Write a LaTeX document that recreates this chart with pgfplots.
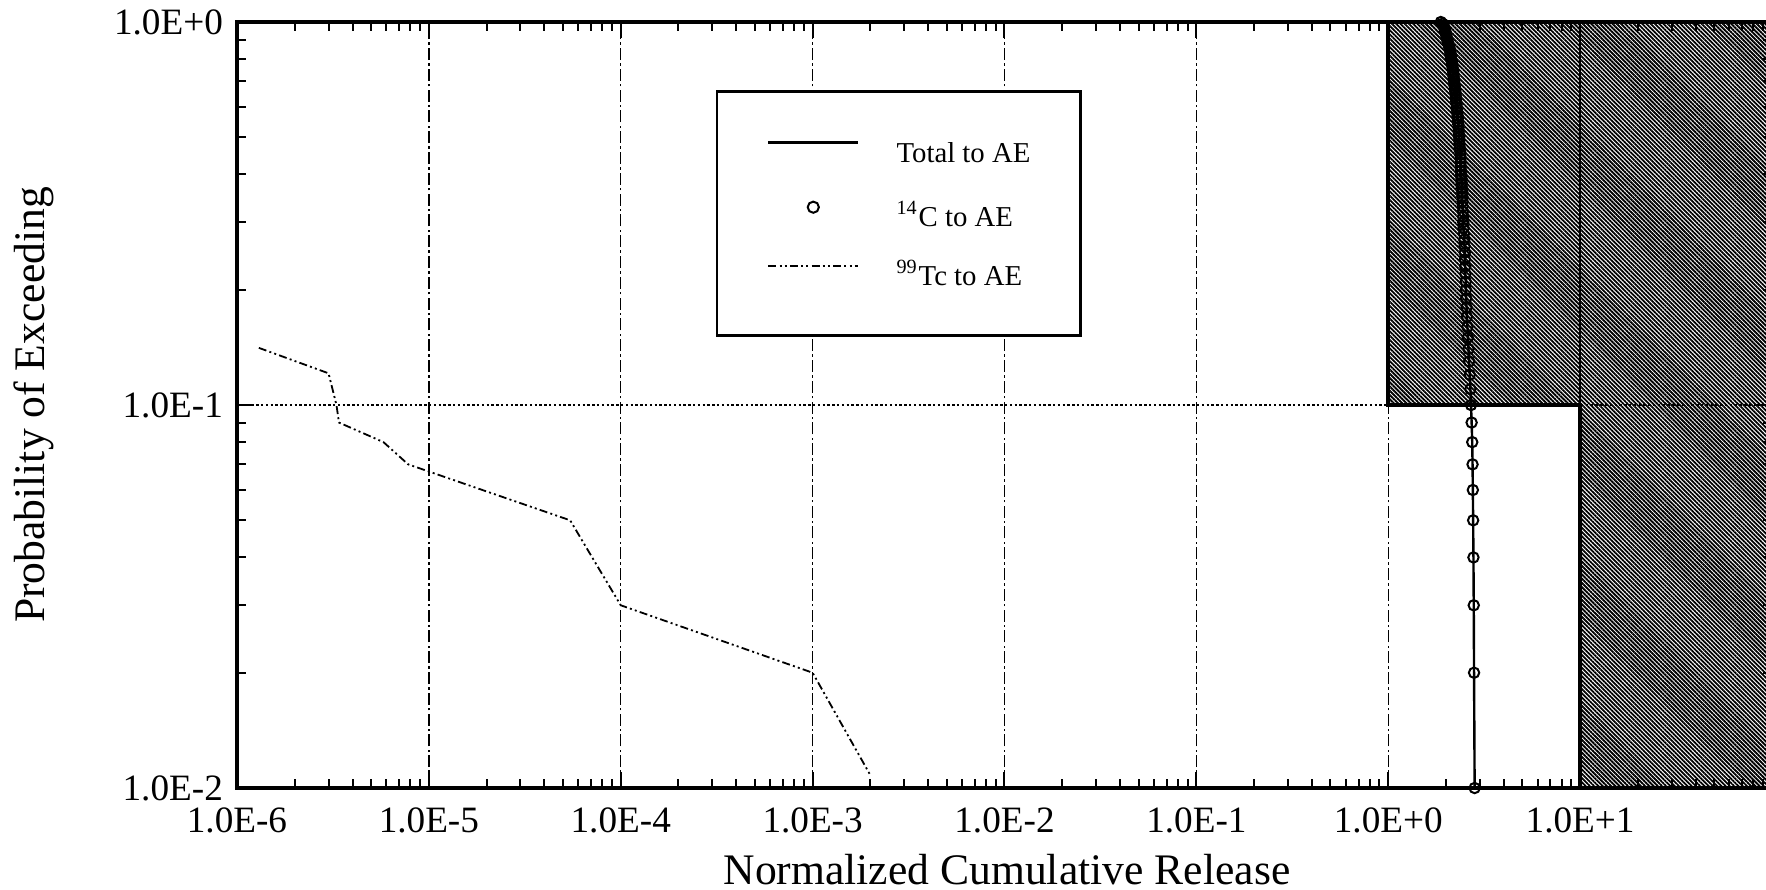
\documentclass[border=0pt]{standalone}
\usepackage{fontspec}
\setmainfont{Liberation Serif}
\usepackage{pgfplots}
\usepackage{pgfplotstable}
\pgfplotsset{compat=1.18}
\usetikzlibrary{patterns.meta}

% 14C release to the accessible environment, one row per realization (CCDF)
\pgfplotstableread{
x y
2.82 0.01
2.80 0.02
2.79 0.03
2.78 0.04
2.77 0.05
2.76 0.06
2.75 0.07
2.74 0.08
2.72 0.09
2.70 0.10
2.68 0.11
2.66 0.12
2.64 0.13
2.62 0.14
2.60 0.15
2.585 0.16
2.57 0.17
2.56 0.18
2.55 0.19
2.54 0.20
2.535 0.21
2.525 0.22
2.52 0.23
2.51 0.24
2.505 0.25
2.50 0.26
2.49 0.27
2.48 0.28
2.47 0.29
2.46 0.30
2.455 0.31
2.45 0.32
2.445 0.33
2.44 0.34
2.435 0.35
2.43 0.36
2.42 0.37
2.415 0.38
2.41 0.39
2.40 0.40
2.395 0.41
2.39 0.42
2.385 0.43
2.38 0.44
2.375 0.45
2.37 0.46
2.36 0.47
2.35 0.48
2.345 0.49
2.34 0.50
2.335 0.51
2.33 0.52
2.325 0.53
2.32 0.54
2.31 0.55
2.305 0.56
2.30 0.57
2.29 0.58
2.28 0.59
2.275 0.60
2.27 0.61
2.26 0.62
2.255 0.63
2.25 0.64
2.24 0.65
2.235 0.66
2.23 0.67
2.22 0.68
2.21 0.69
2.205 0.70
2.20 0.71
2.19 0.72
2.185 0.73
2.18 0.74
2.17 0.75
2.165 0.76
2.16 0.77
2.15 0.78
2.14 0.79
2.13 0.80
2.12 0.81
2.115 0.82
2.11 0.83
2.10 0.84
2.09 0.85
2.08 0.86
2.07 0.87
2.05 0.88
2.04 0.89
2.03 0.90
2.02 0.91
2.01 0.92
2.00 0.93
1.99 0.94
1.98 0.95
1.97 0.96
1.955 0.97
1.94 0.98
1.92 0.99
1.88 1.00
}\carbon

% 99Tc release to the accessible environment
\pgfplotstableread{
x y
1.3e-6 0.141
3.0e-6 0.121
3.3e-6 0.100
3.4e-6 0.090
5.8e-6 0.080
7.8e-6 0.070
5.45e-5 0.050
7.1e-5 0.040
1.0e-4 0.030
1.0e-3 0.020
2.0e-3 0.0108
}\technetium

\begin{document}
\begin{tikzpicture}
\useasboundingbox (0,0) rectangle (441.5pt,222.25pt);
\begin{axis}[
  at={(59.25pt,25.25pt)}, anchor=south west,
  scale only axis, width=383.75pt, height=191.5pt,
  xmode=log, ymode=log,
  xmin=1e-6, xmax=1e2, ymin=0.01, ymax=1,
  clip=false,
  axis line style={line width=0.9pt},
  xtick={1e-6,1e-5,1e-4,1e-3,1e-2,1e-1,1,10,100},
  xticklabels={1.0E-6,1.0E-5,1.0E-4,1.0E-3,1.0E-2,1.0E-1,1.0E+0,1.0E+1,},
  minor xtick={2e-6,3e-6,4e-6,5e-6,6e-6,7e-6,8e-6,9e-6,
               2e-5,3e-5,4e-5,5e-5,6e-5,7e-5,8e-5,9e-5,
               2e-4,3e-4,4e-4,5e-4,6e-4,7e-4,8e-4,9e-4,
               2e-3,3e-3,4e-3,5e-3,6e-3,7e-3,8e-3,9e-3,
               2e-2,3e-2,4e-2,5e-2,6e-2,7e-2,8e-2,9e-2,
               0.2,0.3,0.4,0.5,0.6,0.7,0.8,0.9,
               2,3,4,5,6,7,8,9,
               20,30,40,50,60,70,80,90},
  ytick={0.01,0.1,1},
  yticklabels={1.0E-2,1.0E-1,1.0E+0},
  minor ytick={0.02,0.03,0.04,0.05,0.06,0.07,0.08,0.09,
               0.2,0.3,0.4,0.5,0.6,0.7,0.8,0.9},
  tick label style={font=\fontsize{9.3}{10}\selectfont},
  xticklabel style={yshift=-1.5pt},
  tick style={black, line width=0.5pt},
  major tick length=4pt, minor tick length=2.3pt,
  tick align=inside,
  xmajorgrids, ymajorgrids,
  major x grid style={black, line width=0.35pt, dash pattern=on 3pt off 0.8pt on 0.6pt off 0.8pt},
  major y grid style={black, line width=0.35pt, dash pattern=on 0.6pt off 0.6pt},
  xlabel={Normalized Cumulative Release},
  ylabel={Probability of Exceeding},
  every axis x label/.style={at={(rel axis cs:0.5016,-0.107)}, anchor=center, font=\fontsize{10.9}{12}\selectfont},
  every axis y label/.style={at={(rel axis cs:-0.1322,0.5)}, anchor=center, rotate=90, font=\fontsize{10.9}{12}\selectfont},
  legend style={at={(rel axis cs:0.312,0.911)}, anchor=north west,
    draw=black, line width=0.6pt, fill=white,
    inner xsep=12.5pt, inner ysep=12.5pt,
    row sep=9.6pt, column sep=9.25pt,
    nodes={inner sep=0pt, text height=5pt, text depth=0pt},
    font=\fontsize{7.2}{8.6}\selectfont},
  legend cell align=left,
]
% release limits region
\addplot[draw=black, line width=1pt,
  pattern={Lines[angle=-45, distance=0.75pt, line width=0.46pt]}, pattern color=black,
  forget plot]
  coordinates {(1,1) (100,1) (100,0.01) (10,0.01) (10,0.1) (1,0.1)} -- cycle;
\addplot[black, line width=0.6pt, forget plot] coordinates {(10,0.1) (10,1)};

\addplot[black, line width=0.6pt, mark=none,
  legend image code/.code={\draw[black, line width=0.6pt] (0pt,2.4pt) -- (22.5pt,2.4pt);}]
  table[x=x,y=y] {\carbon};
\addlegendentry{Total to AE}

\addplot[black, only marks, mark=o, mark size=1.3pt, mark options={line width=0.5pt},
  legend image code/.code={\draw[black, line width=0.5pt] (11.25pt,2.4pt) circle (1.4pt);}]
  table[x=x,y=y] {\carbon};
\addlegendentry{\textsuperscript{14}C to AE}

\addplot[black, line width=0.45pt, dash pattern=on 2pt off 0.8pt on 0.5pt off 0.8pt on 0.5pt off 0.8pt,
  legend image code/.code={\draw[black, line width=0.45pt, dash pattern=on 2pt off 0.8pt on 0.5pt off 0.8pt on 0.5pt off 0.8pt] (0pt,2.4pt) -- (22.5pt,2.4pt);}]
  table[x=x,y=y] {\technetium};
\addlegendentry{\textsuperscript{99}Tc to AE}
\end{axis}
\end{tikzpicture}
\end{document}
